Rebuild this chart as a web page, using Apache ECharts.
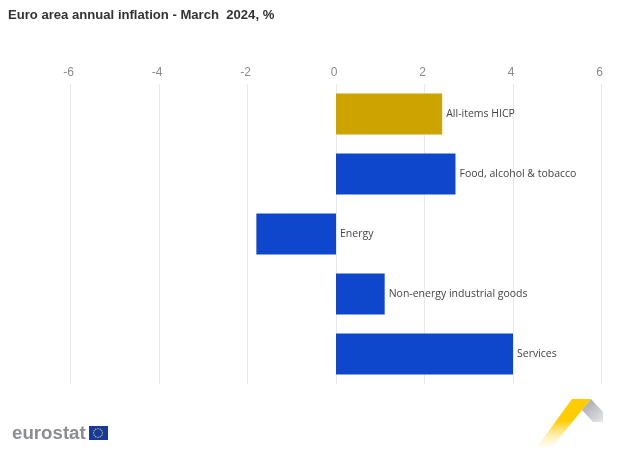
<!DOCTYPE html>
<html>
<head>
<meta charset="utf-8">
<style>
  html, body { margin: 0; padding: 0; background: #fff; }
  #chart { width: 630px; height: 456px; }
</style>
<script src="https://cdn.jsdelivr.net/npm/echarts@6/dist/echarts.min.js"></script>
</head>
<body>
<div id="chart"></div>
<script>
const categories = ['All-items HICP', 'Food, alcohol & tobacco', 'Energy', 'Non-energy industrial goods', 'Services'];
const values = [2.4, 2.7, -1.8, 1.1, 4.0];
const barColors = ['#cca300', '#0e47cb', '#0e47cb', '#0e47cb', '#0e47cb'];

const myChart = echarts.init(document.getElementById('chart'));

// eu flag stars, just decoration for the logo
const stars = [];
for (let i = 0; i < 12; i++) {
  const a = (i / 12) * Math.PI * 2;
  stars.push({
    type: 'circle',
    shape: { cx: 98 + Math.cos(a) * 4.4, cy: 433 + Math.sin(a) * 4.4, r: 0.7 },
    style: { fill: '#d8c860' }
  });
}

const option = {
  animation: false,
  backgroundColor: '#fff',
  title: {
    text: 'Euro area annual inflation - March  2024, %',
    left: 3,
    top: 4,
    textStyle: { fontFamily: 'Liberation Sans', fontSize: 13.1, fontWeight: 'bold', color: '#333' }
  },
  grid: { left: 70.5, right: 28.5, top: 84, bottom: 72 },
  xAxis: {
    type: 'value',
    position: 'top',
    min: -6,
    max: 6,
    interval: 2,
    axisLine: { show: false },
    axisTick: { show: false },
    axisLabel: {
      color: '#8a8a8a',
      fontFamily: 'Liberation Sans',
      fontSize: 12,
      margin: 5,
      padding: [0, 4, 0, 0]
    },
    splitLine: { show: true, lineStyle: { color: '#e6e8ec', width: 1 } }
  },
  yAxis: {
    type: 'category',
    inverse: true,
    data: categories,
    axisLine: { show: false },
    axisTick: { show: false },
    axisLabel: { show: false }
  },
  series: [
    {
      type: 'bar',
      barWidth: 41,
      data: values.map((v, i) => ({ value: v, itemStyle: { color: barColors[i] } })),
      label: {
        show: true,
        position: 'right',
        distance: 4,
        formatter: (params) => params.name,
        color: '#444',
        fontFamily: 'Open Sans',
        fontSize: 10.5
      }
    }
  ],
  graphic: [
    {
      type: 'text',
      left: 12,
      top: 424,
      style: { text: 'eurostat', fill: '#8b8d90', font: 'bold 18.7px "Liberation Sans"' }
    },
    { type: 'rect', shape: { x: 89, y: 426, width: 19, height: 14 }, style: { fill: '#143a9e' } },
    ...stars,
    {
      type: 'polygon',
      shape: { points: [[572, 399], [591, 399], [582, 410], [552, 447], [537, 447]] },
      style: {
        fill: {
          type: 'linear', x: 0, y: 0, x2: 0, y2: 1,
          colorStops: [
            { offset: 0, color: '#ffcc00' },
            { offset: 0.45, color: '#ffcc00' },
            { offset: 1, color: 'rgba(255,235,170,0.15)' }
          ]
        }
      }
    },
    {
      type: 'polygon',
      shape: { points: [[591, 399], [603, 412], [603, 422], [593, 422], [582, 410]] },
      style: {
        fill: {
          type: 'linear', x: 0, y: 0, x2: 1, y2: 1,
          colorStops: [
            { offset: 0, color: '#a0a2a6' },
            { offset: 1, color: '#e6e6e8' }
          ]
        }
      }
    }
  ]
};

myChart.setOption(option);
</script>
</body>
</html>
